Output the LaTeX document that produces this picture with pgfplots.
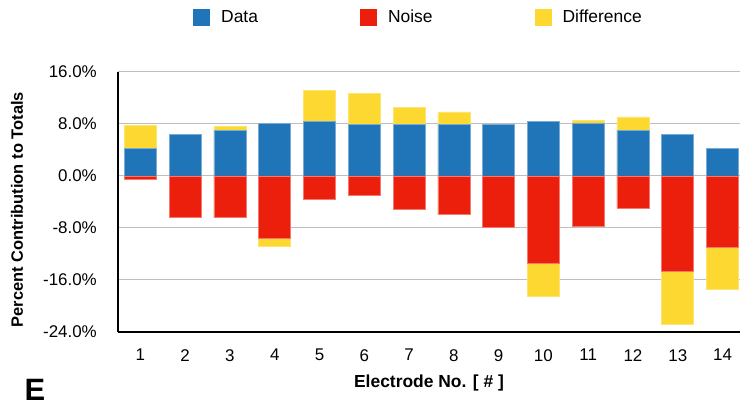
\documentclass[border=0pt]{standalone}
\usepackage{pgfplots}
\pgfplotsset{compat=1.18}
\usepackage{pgfplotstable}
\usepackage{fontspec}
\setmainfont{Liberation Sans}

\definecolor{dataBlue}{HTML}{1F75B8}
\definecolor{noiseRed}{HTML}{EC1F0D}
\definecolor{diffYellow}{HTML}{FDD831}
\definecolor{gridGray}{HTML}{BEBEBE}

% electrode, data share, noise share, upper end (data + positive difference),
% lower end (noise + negative difference), all in percent
\pgfplotstableread{
el  data   noise   top    bottom
1   4.2   -0.5    7.75   -0.5
2   6.35  -6.35   6.35   -6.35
3   7.0   -6.35   7.65   -6.35
4   8.15  -9.55   8.15   -10.8
5   8.4   -3.6    13.2   -3.6
6   7.9   -2.9    12.7   -2.9
7   7.9   -5.15   10.55  -5.15
8   7.9   -5.95   9.85   -5.95
9   7.9   -7.9    7.9    -7.9
10  8.4   -13.5   8.4    -18.5
11  8.15  -7.75   8.5    -7.75
12  7.0   -4.95   9.1    -4.95
13  6.35  -14.6   6.35   -22.8
14  4.2   -10.95  4.2    -17.5
}\electrodes

\begin{document}
\begin{tikzpicture}
\useasboundingbox (0,0) rectangle (740bp,406bp);
\begin{axis}[
  at={(118bp,74bp)}, anchor=south west,
  scale only axis,
  width=622bp, height=260bp,
  xmin=0.5, xmax=14.39,
  ymin=-24, ymax=16,
  ytick={-24,-16,-8,0,8,16},
  xtick={1,...,14},
  major tick length=0pt,
  axis x line*=bottom, axis y line*=left,
  x axis line style={-, black, line width=2.4bp},
  y axis line style={-, black, line width=1.6bp},
  ymajorgrids,
  grid style={gridGray, line width=1bp},
  /pgf/number format/assume math mode=true,
  yticklabel={\pgfmathprintnumber[fixed,fixed zerofill,precision=1]{\tick}\%},
  tick label style={font=\fontsize{17}{19}\selectfont},
  yticklabel style={inner sep=0pt, anchor=east, xshift=-21bp},
  xticklabel style={inner sep=0pt, anchor=north, yshift=-17bp},
  ylabel={Percent Contribution to Totals},
  ylabel style={font=\fontsize{16.5}{18}\selectfont\bfseries, at={(axis description cs:-0.1624,0.47)}, anchor=center},
  xlabel={Electrode No. [ \# ]},
  xlabel style={font=\fontsize{17.5}{19}\selectfont\bfseries, at={(axis description cs:0.5,0)}, anchor=center, yshift=-51bp},
  ybar, bar shift=0pt, bar width=32bp,
  legend columns=3,
  legend style={draw=none, fill=none, inner sep=0pt,
    at={(axis description cs:0.1206,1.2423)}, anchor=north west,
    font=\fontsize{17.5}{19}\selectfont,
    /tikz/every even column/.append style={column sep=102bp},
    /tikz/every odd column/.append style={column sep=11bp},
    nodes={inner sep=0pt}},
  legend image code/.code={\path[#1, draw=none] (0bp,-9bp) rectangle (17bp,8bp);},
  clip=false,
]
\addlegendimage{fill=dataBlue}
\addlegendentry{Data}
\addlegendimage{fill=noiseRed}
\addlegendentry{Noise}
\addlegendimage{fill=diffYellow}
\addlegendentry{Difference}

% the yellow difference shows where the total extends beyond data or noise
\addplot[forget plot, fill=diffYellow, draw=diffYellow!70!white, line width=0.6bp] table[x=el, y=top] {\electrodes};
\addplot[forget plot, fill=diffYellow, draw=diffYellow!70!white, line width=0.6bp] table[x=el, y=bottom] {\electrodes};
\addplot[forget plot, fill=dataBlue, draw=dataBlue!60!white, line width=0.6bp] table[x=el, y=data] {\electrodes};
\addplot[forget plot, fill=noiseRed, draw=noiseRed!60!white, line width=0.6bp] table[x=el, y=noise] {\electrodes};
\end{axis}
\node[font=\fontsize{31}{31}\selectfont\bfseries] at (35bp,16bp) {E};
\end{tikzpicture}
\end{document}
